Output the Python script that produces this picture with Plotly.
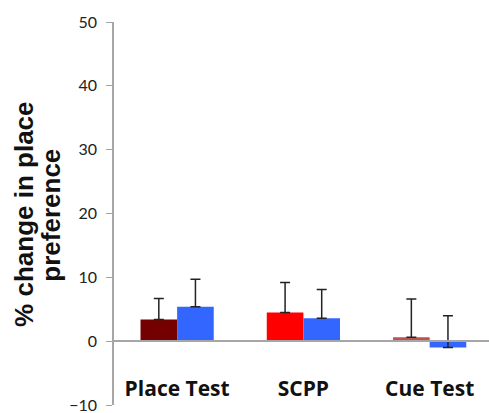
import plotly.graph_objects as go

categories = ["Place Test", "SCPP", "Cue Test"]
series1_values = [3.4, 4.5, 0.6]
series1_err = [3.3, 4.7, 6.0]
series1_colors = ["#740000", "#FF0000", "#C0504D"]
series2_values = [5.4, 3.6, -1.0]
series2_err = [4.3, 4.5, 5.0]
series2_color = "#3366FF"
y_ticks = [-10, 0, 10, 20, 30, 40, 50]
y_title_lines = ["% change in place", "preference"]

fig = go.Figure()
fig.add_trace(go.Bar(
    x=categories, y=series1_values,
    marker=dict(color=series1_colors, line=dict(width=0)),
    error_y=dict(type="data", symmetric=False, array=series1_err,
                 arrayminus=[0, 0, 0], color="#222", thickness=1.5, width=5),
    showlegend=False,
))
fig.add_trace(go.Bar(
    x=categories, y=series2_values,
    marker=dict(color=series2_color, line=dict(width=0)),
    error_y=dict(type="data", symmetric=False, array=series2_err,
                 arrayminus=[0, 0, 0], color="#222", thickness=1.5, width=5),
    showlegend=False,
))

y0, y1 = -10, 50
for xpos, line in zip([-0.242, -0.168], y_title_lines):
    fig.add_annotation(
        text="<b>" + line + "</b>", xref="paper", yref="paper",
        x=xpos, y=0.497, xanchor="center", yanchor="middle",
        textangle=-90, showarrow=False,
        font=dict(family="Arial", size=26, color="#111"),
    )

fig.update_layout(
    width=489, height=413,
    margin=dict(l=114, r=0, t=22, b=8),
    plot_bgcolor="white", paper_bgcolor="white",
    barmode="group", bargap=0.42, bargroupgap=0,
    font=dict(family="Lato, Arial", color="#222"),
    xaxis=dict(
        range=[-0.5, 2.47], anchor="free", position=(0 - y0) / (y1 - y0),
        showline=True, linecolor="#A6A6A6", linewidth=1.5, ticks="",
        tickfont=dict(family="Open Sans, Arial", size=21, color="#111", weight="bold"),
        ticklabelstandoff=29, showgrid=False, zeroline=False,
    ),
    yaxis=dict(
        range=[y0, y1], tickvals=y_ticks, showgrid=False, zeroline=False,
        showline=True, linecolor="#A6A6A6", linewidth=1.5,
        ticks="outside", ticklen=6, tickcolor="#A6A6A6",
        tickfont=dict(family="Lato, Arial", size=16, color="#222"),
        ticklabelstandoff=6, ticklabeloverflow="allow",
    ),
)
fig.write_html("out.html")
